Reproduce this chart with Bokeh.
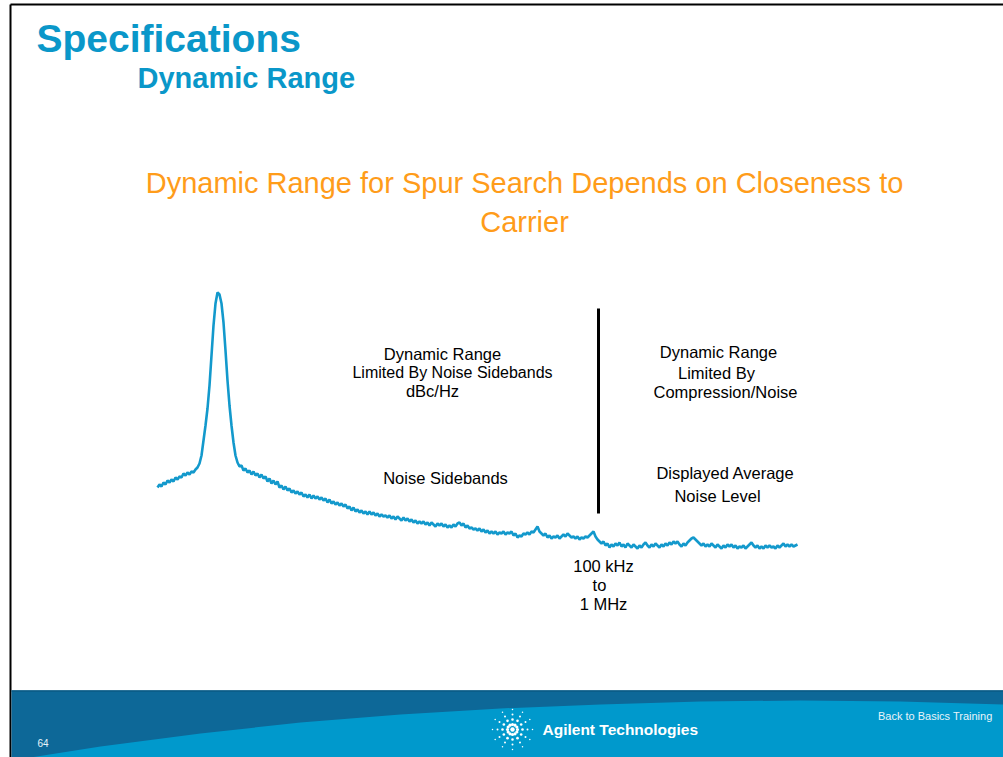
import numpy as np
from bokeh.plotting import figure
from bokeh.models import Range1d, Label
from bokeh.embed import file_html
from bokeh.resources import INLINE

# ---------------- data ----------------
# Spectrum trace (dBc), one value per sweep point
trace_dbc = [
    -97.5, -96, -97, -95, -96, -94, -95, -93.5, -94.5, -92.5,
    -93.5, -92, -92.5, -90.5, -91.5, -90, -91, -89.5, -90, -88.5,
    -87.5, -85.5, -81.5, -74, -66.5, -58, -46.5, -31.5, -16.5, -5.5,
    0, -1, -5.5, -15, -29, -44, -56.5, -66.5, -75, -81.5,
    -85, -87, -86.5, -89, -88, -90, -89, -91, -89.5, -91.5,
    -90.5, -92.5, -91, -93, -92, -94.5, -93, -95.5, -94, -96,
    -94.5, -97.5, -96.5, -98.5, -97, -99, -98, -100, -99, -100.5,
    -99.5, -101, -100, -102, -101, -102.5, -101, -103, -101.5, -103,
    -102, -103.5, -102.5, -104, -103, -105, -103.5, -105.5, -104.5, -106,
    -105, -106.5, -105.5, -107, -106, -108, -107, -109, -107.5, -109.5,
    -108.5, -110, -109, -110.5, -109.5, -111, -109.5, -111, -110, -111.5,
    -110.5, -112, -111, -112, -111.5, -112.5, -111.5, -113, -112, -113.5,
    -112, -113, -114, -112.5, -114, -113, -114.5, -113.5, -115, -114,
    -115.5, -114.5, -115.5, -114.5, -116, -115, -116.5, -115, -116, -117,
    -115.5, -116.5, -115.5, -117, -116, -117.5, -116.5, -117.5, -116, -117,
    -115.5, -115, -116.5, -115.5, -117.5, -116.5, -118, -117.5, -118.5, -118,
    -119, -118, -119.5, -118.5, -120, -119, -120.5, -119.5, -120.5, -119.5,
    -121, -120, -120.5, -119.5, -121, -120, -120.5, -119.5, -121.5, -120.5,
    -122.5, -121.5, -122, -120.5, -121, -120, -121, -119.5, -120, -118.5,
    -117, -119.5, -120.5, -121.5, -120.5, -122.5, -121.5, -123, -122, -122.5,
    -121.5, -123, -122, -121, -122, -120.5, -121.5, -122.5, -122, -123,
    -122, -123.5, -122.5, -123, -122, -122.5, -121.5, -120.5, -119.5, -122,
    -123.5, -124.5, -125.5, -124.5, -126.5, -125.5, -127.5, -126, -127, -125.5,
    -126.5, -125, -127, -126, -127.5, -125.5, -126.5, -127.5, -126, -127,
    -128, -126.5, -127.5, -126, -125, -126.5, -127.5, -126, -127, -125.5,
    -126.5, -127.5, -126, -127, -125.5, -126.5, -125, -126, -124.5, -125.5,
    -124.5, -126, -127, -125.5, -126.5, -125, -124, -123, -122.5, -123.5,
    -124.5, -125.5, -126.5, -125.5, -127, -126, -127, -125.5, -126.5, -127.5,
    -126, -127, -128, -126.5, -127.5, -126, -127, -126, -127.5, -126.5,
    -128, -127, -127.5, -126.5, -128, -127, -126, -125, -126.5, -127.5,
    -126.5, -128, -127, -128, -126.5, -127.5, -126.5, -127.5, -127, -128,
    -126.5, -127.5, -126.5, -125.5, -127, -126, -127, -126, -127, -126.5,
    -126,
]
sweep_points = list(range(len(trace_dbc)))

slide_title = "Specifications"
slide_subtitle = "Dynamic Range"
headline = ["Dynamic Range for Spur Search Depends on Closeness to", "Carrier"]
left_block = ["Dynamic Range", "Limited By Noise Sidebands", "dBc/Hz"]
right_block = ["Dynamic Range", "Limited By", "Compression/Noise"]
left_label = "Noise Sidebands"
right_label = ["Displayed Average", "Noise Level"]
boundary_label = ["100 kHz", "to", "1 MHz"]
footer_company = "Agilent Technologies"
footer_course = "Back to Basics Training"
page_number = "64"

# ---------------- figure ----------------
W, H = 1003, 757
p = figure(width=W, height=H, x_range=Range1d(0, 1003), y_range=Range1d(757, 0),
           output_backend="svg", toolbar_location=None, min_border=0,
           x_axis_location=None, y_axis_location=None)
p.grid.visible = False
p.outline_line_color = None
p.background_fill_color = "white"
p.border_fill_color = "white"
p.extra_x_ranges = {"sweep": Range1d(-78.5, 423)}
p.extra_y_ranges = {"dbc": Range1d(-232.5, 146)}

BLUE = "#0a97c9"
ORANGE = "#ff9c1a"
SANS = "Liberation Sans"

# slide frame
p.segment(x0=[10, 10], y0=[4, 4], x1=[10, 1003], y1=[757, 4], line_color="black", line_width=2)

# footer
p.quad(left=11, right=1003, top=690, bottom=757, fill_color="#0d6898", line_color=None)
p.segment(x0=11, y0=690.5, x1=1003, y1=690.5, line_color="#0a5a85", line_width=1.5)
bx = [30, 100, 200, 300, 400, 500, 600, 700, 800, 900, 1003]
by = [757, 746, 733, 722, 714, 708, 704, 701, 700, 701, 704]
p.patch(x=bx + [1003, 30], y=by + [757, 757], fill_color="#0099cc", line_color=None)

# logo spark
cx, cy = 512, 729
ang = np.deg2rad(np.arange(0, 360, 30))
for r, s in [(5, 3.2), (10, 2.6), (15, 2.0), (20, 1.5)]:
    p.scatter(cx + r * np.cos(ang), cy + r * np.sin(ang) * 1.0, size=s,
              fill_color="white", line_color=None)
p.scatter([cx], [cy], size=4.5, fill_color="white", line_color=None)

# spectrum trace
p.line(x=sweep_points, y=trace_dbc, x_range_name="sweep", y_range_name="dbc",
       line_width=2.6, line_color="#1399cc")

# boundary marker
p.segment(x0=598, y0=308, x1=598, y1=513, line_color="black", line_width=3)

def lab(x, y, t, size, font=SANS, color="black", align="center", style="normal"):
    # y is the wanted baseline; compensate the renderer's baseline offset
    p.add_layout(Label(x=x, y=y - (0.34 * size + 1.2), text=t, text_align=align,
                       text_baseline="alphabetic",
                       text_font=font, text_font_size=f"{size}px", text_color=color,
                       text_font_style=style))

lab(36, 52, slide_title, 39, color=BLUE, align="left", style="bold")
lab(137, 89, slide_subtitle, 29, color=BLUE, align="left", style="bold")
lab(524, 194, headline[0], 29, color=ORANGE)
lab(524, 233, headline[1], 29, color=ORANGE)

LS = 16.5
for t, x, y, s in zip(left_block, [442, 452, 432], [360, 379, 397], [LS, 16, LS]):
    lab(x, y, t, s)
for t, x, y in zip(right_block, [718, 716, 725], [358, 379, 398]):
    lab(x, y, t, LS)
lab(445, 484, left_label, LS)
for t, x, y in zip(right_label, [725, 717], [479, 502]):
    lab(x, y, t, LS)
for t, x, y in zip(boundary_label, [603, 599, 603], [572, 591, 610]):
    lab(x, y, t, LS)

lab(542, 735, footer_company, 15.5, color="white", align="left", style="bold")
lab(992, 720, footer_course, 11, color="#e8f4fa", align="right")
lab(37, 747, page_number, 10, color="#e8f4fa", align="left")

open("out.html", "w").write(file_html(p, INLINE))
